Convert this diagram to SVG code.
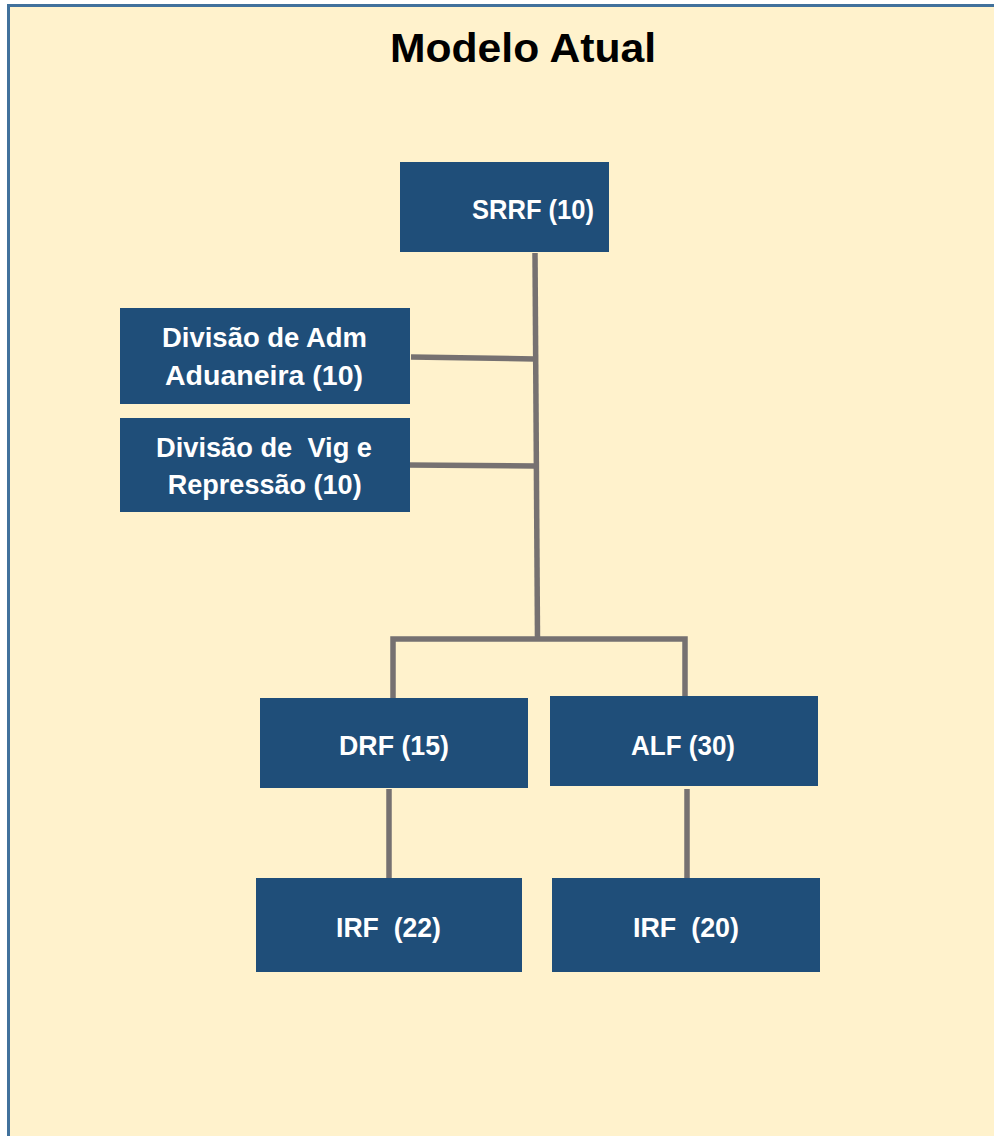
<svg xmlns="http://www.w3.org/2000/svg" width="994" height="1136" viewBox="0 0 994 1136">
  <style>
    .bg { fill: #fff2cc; stroke: #41719c; stroke-width: 3; }
    .node { fill: #1f4e79; }
    .lbl { font-family: "Liberation Sans", Arial, sans-serif; font-weight: bold; font-size: 28px; fill: #ffffff; text-anchor: middle; }
    .title { font-family: "Liberation Sans", Arial, sans-serif; font-weight: bold; font-size: 41px; fill: #000000; text-anchor: middle; }
    .conn { fill: none; stroke: #767171; stroke-width: 5.5; stroke-linecap: butt; stroke-linejoin: miter; }
  </style>
  <rect x="0" y="0" width="994" height="1136" fill="#ffffff"/>
  <rect class="bg" x="8.5" y="5.5" width="1000" height="1150"/>
  <text class="title" x="523" y="62" textLength="266" lengthAdjust="spacingAndGlyphs">Modelo Atual</text>

  <g id="connectors">
    <polyline class="conn" points="535,253 537.5,639"/>
    <polyline class="conn" points="411,357 535,359"/>
    <polyline class="conn" points="407,465 535,466"/>
    <path class="conn" d="M393,698 V639 H685 V696"/>
    <polyline class="conn" points="389,789 389,878"/>
    <polyline class="conn" points="687,789 687,878"/>
  </g>

  <g id="srrf">
    <rect class="node" x="400" y="162" width="209" height="90"/>
    <text class="lbl" x="533" y="219" textLength="122" lengthAdjust="spacingAndGlyphs">SRRF (10)</text>
  </g>
  <g id="div-adm">
    <rect class="node" x="120" y="308" width="290" height="96"/>
    <text class="lbl" x="264.5" y="347" textLength="205" lengthAdjust="spacingAndGlyphs">Divisão de Adm</text>
    <text class="lbl" x="264" y="385" textLength="198" lengthAdjust="spacingAndGlyphs">Aduaneira (10)</text>
  </g>
  <g id="div-vig">
    <rect class="node" x="120" y="418" width="290" height="94"/>
    <text class="lbl" x="264" y="457" textLength="216" lengthAdjust="spacingAndGlyphs" xml:space="preserve">Divisão de  Vig e</text>
    <text class="lbl" x="264.7" y="494" textLength="194" lengthAdjust="spacingAndGlyphs">Repressão (10)</text>
  </g>
  <g id="drf">
    <rect class="node" x="260" y="698" width="268" height="90"/>
    <text class="lbl" x="394" y="755" textLength="110" lengthAdjust="spacingAndGlyphs">DRF (15)</text>
  </g>
  <g id="alf">
    <rect class="node" x="550" y="696" width="268" height="90"/>
    <text class="lbl" x="683" y="755" textLength="104" lengthAdjust="spacingAndGlyphs">ALF (30)</text>
  </g>
  <g id="irf-22">
    <rect class="node" x="256" y="878" width="266" height="94"/>
    <text class="lbl" x="388.5" y="937" textLength="105" lengthAdjust="spacingAndGlyphs" xml:space="preserve">IRF  (22)</text>
  </g>
  <g id="irf-20">
    <rect class="node" x="552" y="878" width="268" height="94"/>
    <text class="lbl" x="686" y="937" textLength="106" lengthAdjust="spacingAndGlyphs" xml:space="preserve">IRF  (20)</text>
  </g>
</svg>
